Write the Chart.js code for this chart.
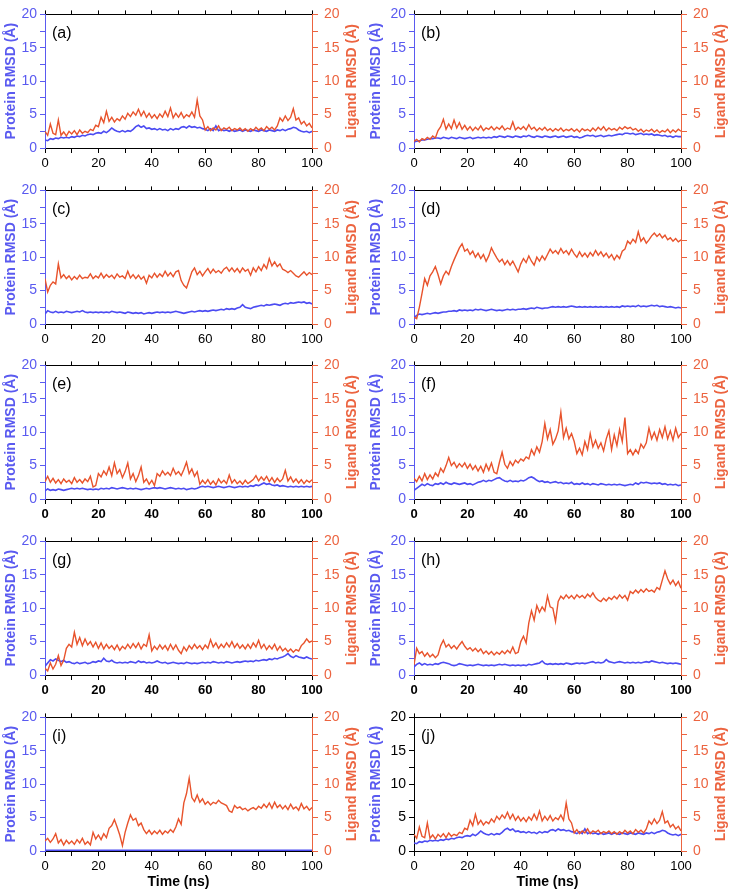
<!DOCTYPE html>
<html>
<head>
  <script src="https://cdn.jsdelivr.net/npm/chart.js"></script>
  <title>Protein / Ligand RMSD</title>
  <style>
    body { margin: 0; background: #fff; }
    #fig { position: relative; width: 729px; height: 893px; }
    .panel { position: absolute; }
  </style>
</head>
<body>
<div id="fig"></div>
<script>
// time axis (ns)
const time = [0,1,2,3,4,5,6,7,8,9,10,11,12,13,14,15,16,17,18,19,20,21,22,23,24,25,26,27,28,29,30,31,32,33,34,35,36,37,38,39,40,41,42,43,44,45,46,47,48,49,50,51,52,53,54,55,56,57,58,59,60,61,62,63,64,65,66,67,68,69,70,71,72,73,74,75,76,77,78,79,80,81,82,83,84,85,86,87,88,89,90,91,92,93,94,95,96,97,98,99,100];
const xTicks = [0, 20, 40, 60, 80, 100];
const yTicks = [0, 5, 10, 15, 20];
const panelLabels = ['(a)','(b)','(c)','(d)','(e)','(f)','(g)','(h)','(i)','(j)'];

// ligand RMSD (Å)
const ligandA = [2.5,1.9,3.6,2.2,2.0,4.2,1.9,2.4,1.8,2.5,2.1,2.6,2.0,2.7,2.2,2.5,2.3,2.8,2.6,3.4,3.2,4.6,3.8,5.5,4.0,4.6,3.9,4.4,4.1,4.8,4.3,5.2,4.7,5.4,4.9,5.8,4.8,5.5,4.6,5.2,4.5,5.0,4.4,5.1,4.6,5.5,4.7,6.0,4.5,5.2,4.6,5.3,4.5,5.0,4.7,5.4,4.6,7.2,4.8,4.2,2.7,3.2,2.6,3.0,2.7,3.3,2.6,3.0,2.8,3.1,2.6,2.9,2.7,3.0,2.6,2.9,2.5,2.9,2.6,3.1,2.7,3.0,2.6,3.2,2.8,3.1,2.7,3.3,4.5,4.0,4.8,4.1,4.6,5.9,4.2,4.5,3.6,4.0,3.3,3.7,3.0];
const ligandB = [1.0,1.3,0.9,1.4,1.2,1.6,1.3,1.8,1.5,2.6,3.2,4.3,2.8,3.6,2.9,4.2,3.0,3.8,2.8,3.4,2.7,3.2,2.6,3.1,2.7,3.3,2.6,3.0,2.8,3.2,2.7,3.1,2.8,3.3,2.7,3.0,2.8,3.9,2.7,3.1,2.8,3.2,2.7,3.5,2.8,3.1,2.6,3.0,2.7,3.1,2.6,2.9,2.5,2.9,2.6,3.0,2.5,2.8,2.6,2.9,2.5,2.8,2.4,2.9,2.6,2.8,2.5,3.0,2.6,3.1,2.7,3.2,2.6,3.0,2.7,2.9,2.6,3.1,2.8,3.2,2.9,3.1,2.7,2.9,2.5,2.8,2.4,2.7,2.5,2.8,2.4,2.7,2.3,2.6,2.4,2.8,2.3,2.7,2.4,2.8,2.5];
const ligandC = [6.8,4.8,5.8,6.3,6.0,9.0,6.9,7.4,6.8,7.2,6.6,7.1,6.7,7.3,6.8,7.0,6.9,7.5,6.8,7.2,6.9,7.6,6.9,7.4,7.0,7.3,6.8,7.5,7.0,7.2,6.8,7.9,6.9,7.4,6.8,7.3,6.7,7.1,6.1,7.3,6.9,7.6,7.0,7.5,7.1,7.9,7.2,7.7,7.1,7.8,8.0,6.5,5.8,5.4,6.6,7.8,8.4,7.4,7.9,7.2,7.8,8.3,7.6,8.2,7.7,8.0,7.6,8.2,8.5,7.9,8.4,7.8,8.3,7.7,8.4,7.9,8.2,7.3,8.4,7.8,8.6,8.0,8.9,8.3,9.8,8.7,9.3,8.6,9.0,8.2,8.0,7.7,8.0,7.6,7.2,7.0,7.4,7.8,7.3,7.7,7.4];
const ligandD = [1.0,0.8,2.5,4.6,6.8,5.8,7.2,7.8,8.6,7.4,6.0,7.2,7.9,7.4,8.6,9.6,10.5,11.4,12.0,10.9,11.2,10.4,10.9,10.0,10.6,9.8,10.4,9.4,10.2,11.4,10.6,9.9,9.3,9.7,8.9,9.5,8.8,9.4,8.6,7.8,9.0,9.8,9.2,10.2,9.4,8.8,10.0,9.4,10.2,9.6,10.4,11.2,10.6,11.0,10.5,11.3,10.6,11.0,10.4,11.2,10.5,10.0,10.8,10.1,10.6,10.0,10.7,10.2,11.0,10.3,10.8,10.1,10.6,9.9,10.4,9.6,10.3,9.8,10.9,11.2,12.4,12.0,12.7,12.2,13.8,12.4,12.9,12.1,12.6,13.2,13.6,13.1,13.5,12.9,13.3,12.6,12.9,12.4,12.8,12.3,12.6];
const ligandE = [2.6,3.4,2.5,3.1,2.4,2.9,2.3,3.0,2.5,2.8,2.3,3.2,2.5,2.9,2.4,3.0,2.6,3.4,1.8,2.0,3.8,3.3,4.2,3.6,4.8,3.5,5.4,3.8,4.4,3.2,4.1,5.4,3.0,3.8,2.6,3.5,4.8,2.5,3.0,2.2,2.8,2.0,3.8,3.4,4.2,3.6,4.0,3.5,4.6,3.7,4.1,3.5,4.4,5.5,3.8,4.5,3.4,4.1,2.2,2.8,2.3,2.9,2.2,2.7,2.1,3.0,2.4,2.8,2.3,3.6,2.4,2.9,2.3,2.7,2.2,2.8,2.3,2.6,2.9,3.5,2.7,3.3,2.8,3.4,2.6,3.2,2.5,3.1,2.6,3.0,4.3,2.7,3.3,2.5,3.0,2.4,2.9,2.3,2.8,2.5,2.9];
const ligandF = [3.1,2.6,3.4,2.7,3.8,2.9,3.6,3.0,3.9,3.4,4.6,4.0,5.0,6.2,5.0,5.5,4.7,5.3,4.8,5.4,4.6,5.2,4.4,5.0,4.2,4.9,4.0,5.2,4.3,5.4,4.0,3.8,5.5,7.0,5.2,4.6,5.6,5.0,5.8,5.4,6.0,5.7,6.3,6.0,7.4,6.6,7.8,7.0,8.6,11.3,9.0,10.4,8.2,9.0,10.2,13.0,9.2,10.6,9.0,9.8,8.6,6.8,7.6,6.6,8.6,7.4,9.8,7.8,8.8,7.6,8.4,7.2,9.0,10.2,7.4,9.6,8.0,10.4,8.6,12.2,6.8,7.4,6.6,7.4,6.8,8.2,7.6,8.4,10.6,9.0,10.0,8.8,10.4,9.2,10.8,9.0,10.2,8.8,10.6,9.2,9.8];
const ligandG = [1.0,0.6,1.8,0.9,1.6,2.9,1.4,2.2,4.0,4.6,4.2,6.4,4.6,5.6,4.4,5.4,4.5,5.0,4.2,4.9,4.0,4.8,3.9,4.6,4.0,4.4,3.8,4.5,3.7,4.3,3.9,4.6,4.0,4.7,4.1,4.8,3.9,4.6,4.3,6.0,3.6,4.3,3.8,4.5,3.9,4.4,3.7,4.6,3.8,4.5,3.7,3.2,4.2,3.6,4.4,3.9,4.6,4.0,4.4,3.8,4.5,4.0,5.3,4.2,4.8,4.0,4.6,4.1,4.8,4.2,5.0,4.1,4.7,4.0,4.5,3.9,4.6,4.0,4.8,4.2,5.2,4.0,4.6,3.8,4.4,3.9,4.6,3.7,4.3,3.6,4.0,3.5,3.9,3.4,3.8,3.6,4.4,4.8,5.4,4.9,5.1];
const ligandH = [1.5,4.0,3.2,3.5,2.8,3.3,2.7,3.1,2.6,3.0,4.4,5.2,4.2,4.6,4.0,4.4,3.9,4.5,5.0,4.3,3.8,4.1,3.6,4.0,3.5,3.9,3.2,3.6,3.1,3.5,3.0,3.4,3.1,3.6,3.2,3.7,3.3,4.2,3.2,3.4,5.0,5.8,4.8,7.8,9.6,8.2,10.4,9.4,10.2,9.6,11.8,10.2,10.0,8.0,11.0,11.8,11.4,12.0,11.5,11.9,11.4,12.0,11.6,11.9,11.5,12.1,11.7,12.3,11.6,11.2,11.0,11.5,11.1,11.6,11.3,11.8,11.4,12.0,11.5,11.9,11.2,12.5,12.2,12.7,12.3,12.8,12.4,12.9,12.5,12.7,12.4,13.1,12.8,14.2,15.6,14.4,13.6,14.2,13.4,14.0,13.0];
const ligandI = [1.5,1.9,1.3,1.8,2.6,1.2,1.7,0.9,1.6,1.1,1.5,1.0,1.7,1.2,1.9,1.0,1.4,0.9,2.8,1.8,2.4,1.7,2.6,2.0,3.4,3.8,4.7,3.6,2.4,0.8,2.8,4.2,5.4,4.6,4.9,3.8,4.2,3.2,2.6,3.1,2.5,3.0,2.6,3.1,2.5,3.0,2.7,3.2,2.8,3.6,4.8,4.0,7.2,8.6,10.9,8.0,7.4,8.4,7.3,7.8,7.0,7.4,6.9,7.3,7.1,7.6,7.2,7.0,6.8,6.0,5.8,6.8,6.4,6.6,6.2,6.4,6.0,6.3,6.5,6.2,6.7,6.4,7.0,6.5,7.2,6.4,7.3,6.5,6.9,6.3,6.8,6.2,7.0,6.3,6.6,6.1,7.1,6.3,6.7,6.1,6.5];
const ligandJ = ligandA;

// protein RMSD (Å)
const proteinA = [1.2,1.1,1.4,1.3,1.5,1.4,1.6,1.5,1.6,1.5,1.7,1.6,1.8,1.7,1.9,1.8,2.0,2.1,2.0,2.2,2.3,2.2,2.5,2.3,2.6,3.0,2.7,2.5,2.4,2.6,2.4,2.6,2.5,2.8,3.2,3.4,3.1,3.3,2.9,3.0,2.8,2.9,2.7,2.9,2.7,2.8,2.6,2.9,2.7,2.9,2.8,3.1,3.2,3.0,3.3,3.1,3.2,3.0,3.1,2.9,2.8,2.6,2.9,2.6,3.3,2.6,2.8,2.6,2.7,2.5,2.7,2.5,2.6,2.7,2.5,2.7,2.6,2.5,2.7,2.6,2.5,2.7,2.6,2.5,2.7,2.6,2.5,2.7,2.6,2.8,2.6,2.8,2.9,3.1,3.0,2.7,2.5,2.4,2.5,2.3,2.5];
const proteinB = [0.9,1.0,1.1,1.2,1.2,1.3,1.4,1.4,1.5,1.5,1.4,1.6,1.5,1.4,1.6,1.5,1.4,1.6,1.5,1.4,1.5,1.6,1.4,1.5,1.6,1.5,1.6,1.5,1.6,1.5,1.7,1.6,1.8,1.7,1.6,1.8,1.7,1.6,1.8,1.7,1.6,1.8,1.7,1.9,1.7,1.6,1.8,1.7,1.6,1.8,1.7,1.6,1.7,1.8,1.6,1.7,1.8,1.6,1.7,1.8,1.6,1.7,1.5,1.6,1.8,1.9,1.8,1.9,1.7,1.8,1.9,1.7,1.8,1.9,1.8,1.9,2.0,2.1,2.0,2.2,2.2,2.1,2.2,2.0,2.1,2.2,2.0,2.1,2.0,2.1,1.9,2.0,1.9,1.8,1.9,1.7,1.8,1.6,1.8,1.7,1.7];
const proteinC = [1.5,2.0,1.8,1.7,1.9,1.7,1.8,1.7,1.9,1.8,1.7,1.8,1.9,1.8,2.0,1.8,1.7,1.8,1.7,1.8,1.7,1.8,1.7,1.8,1.7,1.9,1.8,1.7,1.8,1.7,1.6,1.8,1.7,1.6,1.7,1.6,1.7,1.5,1.6,1.7,1.6,1.7,1.8,1.7,1.8,1.7,1.8,1.7,1.8,1.9,1.8,1.7,1.6,1.7,1.8,1.9,1.8,1.9,2.0,1.9,2.0,1.9,2.0,2.1,2.0,2.1,2.2,2.1,2.3,2.2,2.3,2.2,2.4,2.5,2.9,2.5,2.4,2.3,2.5,2.6,2.7,2.8,2.7,2.9,2.8,2.9,3.0,2.9,2.8,3.0,3.1,3.0,3.2,3.1,3.2,3.3,3.2,3.3,3.1,3.2,3.0];
const proteinD = [0.9,1.3,1.5,1.4,1.5,1.6,1.5,1.6,1.7,1.6,1.7,1.8,1.8,1.9,1.9,2.0,1.9,2.1,2.0,2.1,2.0,2.1,2.0,2.2,2.1,2.2,2.1,2.0,2.1,2.2,2.1,2.0,2.1,2.0,2.1,2.2,2.1,2.2,2.1,2.2,2.2,2.3,2.2,2.3,2.4,2.3,2.5,2.4,2.3,2.4,2.4,2.5,2.6,2.5,2.6,2.5,2.6,2.5,2.6,2.7,2.6,2.5,2.6,2.5,2.6,2.5,2.6,2.5,2.6,2.5,2.6,2.5,2.6,2.5,2.6,2.5,2.6,2.5,2.7,2.6,2.7,2.6,2.7,2.6,2.8,2.6,2.7,2.6,2.7,2.8,2.7,2.8,2.6,2.7,2.6,2.5,2.6,2.5,2.4,2.5,2.4];
const proteinE = [1.2,1.5,1.3,1.4,1.3,1.5,1.4,1.3,1.4,1.5,1.6,1.5,1.6,1.5,1.6,1.5,1.4,1.5,1.4,1.5,1.4,1.6,1.5,1.6,1.5,1.7,1.6,1.5,1.6,1.7,1.6,1.5,1.6,1.5,1.6,1.5,1.4,1.5,1.6,1.5,1.6,1.7,1.6,1.7,1.6,1.5,1.6,1.7,1.6,1.5,1.6,1.5,1.6,1.4,1.5,1.6,1.5,1.6,1.8,1.9,1.8,1.9,1.8,1.7,1.8,1.9,1.8,1.7,1.8,1.9,1.8,1.7,1.8,1.9,1.8,1.9,1.8,2.0,1.9,2.1,2.0,2.2,2.4,2.2,2.3,2.1,2.0,2.1,1.9,2.0,1.9,1.8,1.9,1.8,1.9,1.8,1.9,1.8,1.9,1.8,1.9];
const proteinF = [1.3,1.6,1.9,2.2,2.0,2.3,2.1,2.0,2.3,2.2,2.4,2.2,2.5,2.3,2.2,2.4,2.3,2.2,2.3,2.4,2.2,2.3,2.1,2.3,2.5,2.6,2.8,2.6,2.8,2.7,2.9,3.1,3.2,2.9,2.7,2.6,2.8,2.6,2.7,2.6,2.8,2.7,2.9,3.2,3.3,3.1,2.8,2.6,2.7,2.5,2.6,2.4,2.5,2.6,2.4,2.5,2.3,2.4,2.3,2.5,2.2,2.3,2.2,2.4,2.2,2.3,2.1,2.3,2.2,2.1,2.3,2.2,2.1,2.2,2.1,2.2,2.1,2.2,2.1,2.0,2.1,2.2,2.1,2.4,2.2,2.5,2.4,2.5,2.4,2.3,2.4,2.3,2.4,2.2,2.3,2.1,2.2,2.1,2.2,2.0,2.1];
const proteinG = [1.3,1.8,2.3,2.1,2.4,2.2,2.0,2.2,1.9,2.0,1.8,1.7,1.9,1.7,1.8,1.9,1.7,1.8,2.0,1.9,2.1,2.0,2.5,2.1,2.0,2.2,1.9,1.8,1.9,1.8,1.9,1.8,2.0,1.9,1.8,2.1,1.9,2.0,1.8,1.9,1.8,1.9,2.1,1.9,1.8,1.9,1.7,1.8,1.9,1.8,1.7,1.8,1.7,1.9,1.8,1.7,1.8,1.7,1.8,1.9,1.8,1.9,1.8,2.0,1.9,1.8,1.9,1.8,2.0,1.9,1.8,1.9,2.0,1.9,2.0,2.1,2.0,2.1,2.0,2.2,2.1,2.2,2.3,2.2,2.4,2.3,2.5,2.4,2.6,2.7,2.9,3.2,2.8,2.6,2.9,2.7,2.6,2.5,2.7,2.5,2.4];
const proteinH = [1.2,1.6,1.8,1.5,1.7,1.5,1.6,1.5,1.7,1.6,1.8,1.9,1.8,1.7,1.5,1.4,1.5,1.7,1.6,1.5,1.4,1.5,1.4,1.5,1.6,1.5,1.4,1.5,1.4,1.5,1.4,1.5,1.6,1.5,1.6,1.5,1.4,1.5,1.4,1.5,1.4,1.5,1.4,1.6,1.5,1.6,1.7,1.8,2.1,1.7,1.6,1.7,1.6,1.7,1.6,1.7,1.6,1.8,1.7,1.6,1.7,1.8,1.7,1.8,1.7,1.8,1.9,2.0,1.8,1.9,1.8,1.9,2.3,2.0,1.9,1.8,1.9,2.0,1.9,1.8,1.9,1.8,1.9,1.8,1.9,1.8,1.9,2.0,1.9,2.1,2.0,1.9,1.8,1.9,1.8,1.7,1.8,1.7,1.8,1.7,1.6];
const proteinI = [0.05,0.05,0.05,0.05,0.05,0.05,0.05,0.05,0.05,0.05,0.05,0.05,0.05,0.05,0.05,0.05,0.05,0.05,0.05,0.05,0.05,0.05,0.05,0.05,0.05,0.05,0.05,0.05,0.05,0.05,0.05,0.05,0.05,0.05,0.05,0.05,0.05,0.05,0.05,0.05,0.05,0.05,0.05,0.05,0.05,0.05,0.05,0.05,0.05,0.05,0.05,0.05,0.05,0.05,0.05,0.05,0.05,0.05,0.05,0.05,0.05,0.05,0.05,0.05,0.05,0.05,0.05,0.05,0.05,0.05,0.05,0.05,0.05,0.05,0.05,0.05,0.05,0.05,0.05,0.05,0.05,0.05,0.05,0.05,0.05,0.05,0.05,0.05,0.05,0.05,0.05,0.05,0.05,0.05,0.05,0.05,0.05,0.05,0.05,0.05,0.05];
const proteinJ = proteinA;

const ligands = [ligandA, ligandB, ligandC, ligandD, ligandE, ligandF, ligandG, ligandH, ligandI, ligandJ];
const proteins = [proteinA, proteinB, proteinC, proteinD, proteinE, proteinF, proteinG, proteinH, proteinI, proteinJ];

const BLUE = '#4b4bf2';
const BLUE_AX = '#5a5af0';
const ORANGE = '#e8532c';
const ORANGE_AX = '#ec6440';

// layout: plot area tops / bottoms per row, columns
const rowTop = [6, 182, 357, 533, 709];
const rowBottom = [148, 324, 499, 675, 851];
const cols = [
  { left: 0, width: 364, yW: 45, y2W: 52, rTitle: 12 },
  { left: 365, width: 364, yW: 49, y2W: 48, rTitle: 8 }
];
const boldX = [false, false, false, false, true, true, true, true, false, false];

const overlay = {
  id: 'overlay',
  afterDraw(chart, args, opts) {
    const ctx = chart.ctx, a = chart.chartArea;
    ctx.save();
    // right axis title, reading bottom to top
    ctx.translate(chart.width - opts.rTitle, (a.top + a.bottom) / 2);
    ctx.rotate(-Math.PI / 2);
    ctx.font = 'bold 14px "Liberation Sans", Arial, sans-serif';
    ctx.fillStyle = ORANGE_AX;
    ctx.textAlign = 'center';
    ctx.textBaseline = 'middle';
    ctx.fillText('Ligand RMSD (Å)', 0, 0);
    ctx.restore();
    ctx.save();
    ctx.font = '16px "Liberation Sans", Arial, sans-serif';
    ctx.fillStyle = '#000';
    ctx.textBaseline = 'alphabetic';
    ctx.fillText(opts.label, a.left + 7, a.top + 24);
    ctx.restore();
  }
};

const fig = document.getElementById('fig');

panelLabels.forEach((label, i) => {
  const r = Math.floor(i / 2), c = cols[i % 2];
  const last = r === 4;
  const top = rowTop[r] - 6;
  const h = last ? 893 - top : rowBottom[r] + 28 - top;
  const xH = last ? 42 : 28;
  const leftCol = i === 9 ? '#000' : BLUE_AX;

  const wrap = document.createElement('div');
  wrap.className = 'panel';
  wrap.style.left = c.left + 'px';
  wrap.style.top = top + 'px';
  wrap.style.width = c.width + 'px';
  wrap.style.height = h + 'px';
  const cv = document.createElement('canvas');
  wrap.appendChild(cv);
  fig.appendChild(wrap);

  new Chart(cv, {
    type: 'line',
    data: {
      datasets: [
        {
          label: 'Ligand',
          data: time.map((t, k) => ({ x: t, y: ligands[i][k] })),
          borderColor: ORANGE, borderWidth: 1.4, pointRadius: 0, yAxisID: 'y2'
        },
        {
          label: 'Protein',
          data: time.map((t, k) => ({ x: t, y: proteins[i][k] })),
          borderColor: BLUE, borderWidth: i === 8 ? 2.5 : 1.6, pointRadius: 0, yAxisID: 'y'
        }
      ]
    },
    options: {
      responsive: true,
      maintainAspectRatio: false,
      animation: false,
      layout: { padding: 0 },
      plugins: {
        legend: { display: false },
        tooltip: { enabled: false },
        overlay: { label, rTitle: c.rTitle }
      },
      scales: {
        x: {
          type: 'linear', position: 'bottom', min: 0, max: 100,
          afterFit: s => { s.height = xH; },
          border: { color: '#000', width: 1 },
          grid: { drawOnChartArea: false, tickLength: 5, color: '#000' },
          ticks: {
            stepSize: 10, autoSkip: false, maxRotation: 0, padding: 3, color: '#000',
            font: { size: 13, family: '"Liberation Sans", Arial', weight: boldX[i] ? 'bold' : 'normal' },
            callback: v => xTicks.includes(v) ? v : ''
          },
          title: {
            display: last, text: 'Time (ns)', color: '#000',
            font: { size: 14, weight: 'bold', family: '"Liberation Sans", Arial' },
            padding: { top: 0, bottom: 2 }
          }
        },
        xTop: {
          type: 'linear', position: 'top', min: 0, max: 100,
          afterFit: s => { s.height = 6; },
          border: { color: '#000', width: 1 },
          grid: { drawOnChartArea: false, tickLength: 4, color: '#000' },
          ticks: { display: false, stepSize: 10 }
        },
        y: {
          position: 'left', min: 0, max: 20,
          afterFit: s => { s.width = c.yW; },
          border: { color: leftCol, width: 1 },
          grid: { drawOnChartArea: false, tickLength: 5, color: leftCol },
          ticks: {
            stepSize: 2.5, autoSkip: false, padding: 3, color: leftCol,
            font: { size: 14, family: '"Liberation Sans", Arial' },
            callback: v => yTicks.includes(v) ? v : ''
          },
          title: {
            display: true, text: 'Protein RMSD (Å)', color: BLUE_AX,
            font: { size: 14, weight: 'bold', family: '"Liberation Sans", Arial' },
            padding: { top: 3, bottom: 0 }
          }
        },
        y2: {
          position: 'right', min: 0, max: 20,
          afterFit: s => { s.width = c.y2W; },
          border: { color: ORANGE_AX, width: 1 },
          grid: { drawOnChartArea: false, tickLength: 6, color: ORANGE_AX },
          ticks: {
            stepSize: 2.5, autoSkip: false, padding: 6, color: ORANGE_AX,
            font: { size: 14, family: '"Liberation Sans", Arial' },
            callback: v => yTicks.includes(v) ? v : ''
          }
        }
      }
    },
    plugins: [overlay]
  });
});
</script>
</body>
</html>
